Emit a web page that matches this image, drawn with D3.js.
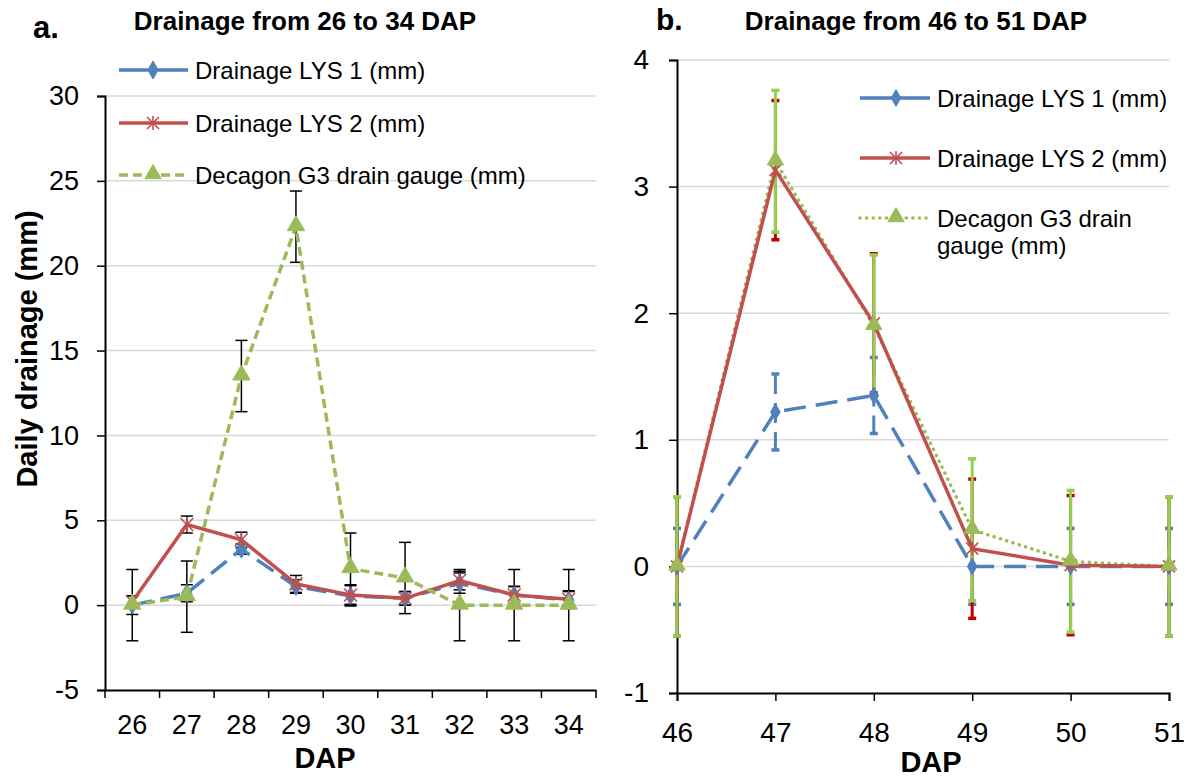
<!DOCTYPE html>
<html>
<head>
<meta charset="utf-8">
<script src="https://cdn.jsdelivr.net/npm/d3@7"></script>
<style>
  body { margin: 0; background: #fff; }
  text { font-family: "Liberation Sans", Arial, sans-serif; fill: #000; }
  .bold { font-weight: bold; }
</style>
</head>
<body>
<svg id="chart" width="1192" height="778"></svg>
<script>
// panel a: 26 - 34 DAP
var dapA = [26, 27, 28, 29, 30, 31, 32, 33, 34];
var lys1A = [0, 0.7, 3.3, 1.1, 0.55, 0.4, 1.3, 0.6, 0.3];
var lys2A = [0.2, 4.75, 3.85, 1.25, 0.6, 0.4, 1.45, 0.6, 0.35];
var g3A = [0, 0.5, 13.5, 22.3, 2.15, 1.6, 0, 0, 0];
var lys1ErrA = [0.55, 0.5, 0.3, 0.4, 0.6, 0.4, 0.6, 0.5, 0.5];
var lys2ErrA = [0.35, 0.5, 0.45, 0.5, 0.6, 0.4, 0.55, 0.5, 0.5];
var g3ErrA = [2.1, 2.1, 2.1, 2.1, 2.1, 2.1, 2.1, 2.1, 2.1];
var yTicksA = [-5, 0, 5, 10, 15, 20, 25, 30];

// panel b: 46 - 51 DAP
var dapB = [46, 47, 48, 49, 50, 51];
var lys1B = [0, 1.22, 1.35, 0, 0, 0];
var lys2B = [0, 3.13, 1.92, 0.14, 0.01, 0];
var g3B = [0, 3.2, 1.9, 0.29, 0.04, 0];
var lys1ErrB = [0.3, 0.3, 0.3, 0.3, 0.3, 0.3];
var lys2ErrB = [0.55, 0.55, 0.55, 0.55, 0.55, 0.55];
var g3ErrB = [0.55, 0.56, 0.56, 0.56, 0.56, 0.55];
var yTicksB = [-1, 0, 1, 2, 3, 4];

var legendNames = ["Drainage LYS 1 (mm)", "Drainage LYS 2 (mm)", "Decagon G3 drain gauge (mm)"];

var blue = "#4f81bd", red = "#c0504d", green = "#9bbb59";
var plain = d => String(d);   // hyphen minus like the original

var svg = d3.select("#chart");

// marker shapes
function marker(g, type, x, y, s) {
    if (type == "diamond") {
        g.append("path")
            .attr("d", d3.symbol().type(d3.symbolDiamond).size(s * s * 0.55)())
            .attr("transform", "translate(" + x + "," + y + ")")
            .attr("fill", blue).attr("stroke", blue).attr("stroke-width", 1);
    } else if (type == "star") {
        var r = s / 2;
        var d = "M" + (-r) + "," + (-r) + "L" + r + "," + r +
                "M" + (-r) + "," + r + "L" + r + "," + (-r) +
                "M0," + (-r * 1.15) + "L0," + (r * 1.15);
        g.append("path")
            .attr("d", d)
            .attr("transform", "translate(" + x + "," + y + ")")
            .attr("stroke", red).attr("stroke-width", 1.6).attr("fill", "none");
    } else {
        g.append("path")
            .attr("d", d3.symbol().type(d3.symbolTriangle).size(s * s * 0.45)())
            .attr("transform", "translate(" + x + "," + (y - 1) + ")")
            .attr("fill", green).attr("stroke", green).attr("stroke-width", 1);
    }
}

// ---------- panel a ----------
var xA = d3.scaleBand().domain(dapA).range([105, 596]);
var yA = d3.scaleLinear().domain([-5, 30]).range([690, 96]);
var gA = svg.append("g");

gA.selectAll(".grid")
    .data(yTicksA.filter(d => d > -5))
    .enter().append("line")
    .attr("x1", 105).attr("x2", 596)
    .attr("y1", d => yA(d)).attr("y2", d => yA(d))
    .attr("stroke", "#d9d9d9").attr("stroke-width", 1.5);

var axYA = gA.append("g").attr("transform", "translate(105,0)")
    .call(d3.axisLeft(yA).tickValues(yTicksA).tickSize(8).tickPadding(18).tickFormat(plain));
axYA.select(".domain").attr("stroke", "#000").attr("stroke-width", 2);
axYA.selectAll(".tick line").attr("stroke", "#000").attr("stroke-width", 1.5);
axYA.selectAll("text").attr("font-size", 27).attr("font-family", "Liberation Sans, Arial");

var axXA = gA.append("g").attr("transform", "translate(0,690)")
    .call(d3.axisBottom(xA).tickSize(0).tickPadding(25).tickFormat(plain));
axXA.select(".domain").attr("stroke", "#000").attr("stroke-width", 2);
axXA.selectAll("text").attr("font-size", 27).attr("font-family", "Liberation Sans, Arial");
// category boundary ticks
gA.selectAll(".bt")
    .data(dapA.map(d => xA(d)).concat([596]))
    .enter().append("line")
    .attr("x1", d => d).attr("x2", d => d)
    .attr("y1", 690).attr("y2", 698)
    .attr("stroke", "#000").attr("stroke-width", 1.5);

function cx(d) { return xA(d) + xA.bandwidth() / 2; }

// error bars (black)
function errA(vals, errs) {
    dapA.forEach(function(d, i) {
        var x = cx(d), top = yA(vals[i] + errs[i]), bot = yA(vals[i] - errs[i]);
        gA.append("line").attr("x1", x).attr("x2", x).attr("y1", top).attr("y2", bot)
            .attr("stroke", "#000").attr("stroke-width", 1.5);
        [top, bot].forEach(function(yy) {
            gA.append("line").attr("x1", x - 6).attr("x2", x + 6).attr("y1", yy).attr("y2", yy)
                .attr("stroke", "#000").attr("stroke-width", 1.5);
        });
    });
}

function lineA(vals, color, dash) {
    var line = d3.line().x((d, i) => cx(dapA[i])).y(d => yA(d));
    gA.append("path").datum(vals).attr("d", line)
        .attr("fill", "none").attr("stroke", color).attr("stroke-width", 3.5)
        .attr("stroke-dasharray", dash);
}

errA(g3A, g3ErrA);
errA(lys1A, lys1ErrA);
errA(lys2A, lys2ErrA);
lineA(lys1A, blue, "20,9");
lys1A.forEach((v, i) => marker(gA, "diamond", cx(dapA[i]), yA(v), 13));
lineA(lys2A, red, null);
lys2A.forEach((v, i) => marker(gA, "star", cx(dapA[i]), yA(v), 13));
lineA(g3A, green, "9,5");
g3A.forEach((v, i) => marker(gA, "triangle", cx(dapA[i]), yA(v), 17));

// labels a
svg.append("text").attr("class", "bold").attr("x", 33).attr("y", 38).attr("font-size", 31).text("a.");
svg.append("text").attr("class", "bold").attr("x", 305).attr("y", 30).attr("font-size", 26)
    .attr("text-anchor", "middle").text("Drainage from 26 to 34 DAP");
svg.append("text").attr("class", "bold").attr("x", 325).attr("y", 768).attr("font-size", 29)
    .attr("text-anchor", "middle").text("DAP");
svg.append("text").attr("class", "bold").attr("font-size", 29)
    .attr("text-anchor", "middle")
    .attr("transform", "translate(37,349) rotate(-90)").text("Daily drainage (mm)");

// legend a
var legA = [[blue, null, "diamond", 70], [red, null, "star", 123], [green, "9,5", "triangle", 175]];
legA.forEach(function(l, i) {
    svg.append("line").attr("x1", 119).attr("x2", 188).attr("y1", l[3]).attr("y2", l[3])
        .attr("stroke", l[0]).attr("stroke-width", 3.5)
        .attr("stroke-dasharray", l[1]);
    marker(svg, l[2], 153, l[3], l[2] == "triangle" ? 16 : (l[2] == "star" ? 12 : 13));
    svg.append("text").attr("x", 195).attr("y", l[3] + 8.5).attr("font-size", 24).text(legendNames[i]);
});

// ---------- panel b ----------
var xB = d3.scaleLinear().domain([46, 51]).range([677, 1169]);
var yB = d3.scaleLinear().domain([-1, 4]).range([693, 60]);
var gB = svg.append("g");

gB.selectAll(".grid")
    .data(yTicksB.filter(d => d > -1))
    .enter().append("line")
    .attr("x1", 677).attr("x2", 1169)
    .attr("y1", d => yB(d)).attr("y2", d => yB(d))
    .attr("stroke", "#d9d9d9").attr("stroke-width", 1.5);

var axYB = gB.append("g").attr("transform", "translate(677,0)")
    .call(d3.axisLeft(yB).tickValues(yTicksB).tickSize(8).tickPadding(20).tickFormat(plain));
axYB.select(".domain").attr("stroke", "#000").attr("stroke-width", 2);
axYB.selectAll(".tick line").attr("stroke", "#000").attr("stroke-width", 1.5);
axYB.selectAll("text").attr("font-size", 28).attr("font-family", "Liberation Sans, Arial");

var axXB = gB.append("g").attr("transform", "translate(0,693)")
    .call(d3.axisBottom(xB).tickValues(dapB).tickSize(8).tickPadding(21).tickFormat(plain));
axXB.select(".domain").attr("stroke", "#000").attr("stroke-width", 2);
axXB.selectAll(".tick line").attr("stroke", "#000").attr("stroke-width", 1.5);
axXB.selectAll("text").attr("font-size", 28).attr("font-family", "Liberation Sans, Arial");

function errB(vals, errs, color, dash, w) {
    dapB.forEach(function(d, i) {
        var x = xB(d), top = yB(vals[i] + errs[i]), bot = yB(vals[i] - errs[i]);
        gB.append("line").attr("x1", x).attr("x2", x).attr("y1", top).attr("y2", bot)
            .attr("stroke", color).attr("stroke-width", w).attr("stroke-dasharray", dash);
        [top, bot].forEach(function(yy) {
            gB.append("line").attr("x1", x - 4).attr("x2", x + 4).attr("y1", yy).attr("y2", yy)
                .attr("stroke", color).attr("stroke-width", w + 0.5);
        });
    });
}

function lineB(vals, color, dash, cap) {
    var line = d3.line().x((d, i) => xB(dapB[i])).y(d => yB(d));
    gB.append("path").datum(vals).attr("d", line)
        .attr("fill", "none").attr("stroke", color).attr("stroke-width", 3.5)
        .attr("stroke-dasharray", dash).attr("stroke-linecap", cap || "butt");
}

errB(lys1B, lys1ErrB, blue, "20,9", 3);
errB(lys2B, lys2ErrB, "#c00000", null, 3);
errB(g3B, g3ErrB, "#92d050", null, 3);

lineB(g3B, green, "0.1,6.5", "round");
lineB(lys1B, blue, "22,10");
lys1B.forEach((v, i) => marker(gB, "diamond", xB(dapB[i]), yB(v), 12));
lineB(lys2B, red, null);
lys2B.forEach((v, i) => marker(gB, "star", xB(dapB[i]), yB(v), 12));
g3B.forEach((v, i) => marker(gB, "triangle", xB(dapB[i]), yB(v), 16));

// labels b
svg.append("text").attr("class", "bold").attr("x", 656).attr("y", 30).attr("font-size", 30).text("b.");
svg.append("text").attr("class", "bold").attr("x", 916).attr("y", 30).attr("font-size", 26)
    .attr("text-anchor", "middle").text("Drainage from 46 to 51 DAP");
svg.append("text").attr("class", "bold").attr("x", 931).attr("y", 772).attr("font-size", 29)
    .attr("text-anchor", "middle").text("DAP");

// legend b
var legB = [[blue, null, "diamond", 98], [red, null, "star", 158], [green, "0.1,6.5", "triangle", 218]];
legB.forEach(function(l, i) {
    svg.append("line").attr("x1", 860).attr("x2", 930).attr("y1", l[3]).attr("y2", l[3])
        .attr("stroke", l[0]).attr("stroke-width", 3.5)
        .attr("stroke-dasharray", l[1]).attr("stroke-linecap", l[1] ? "round" : "butt");
    marker(svg, l[2], 896, l[3], l[2] == "triangle" ? 16 : 12);
});
svg.append("text").attr("x", 937).attr("y", 107).attr("font-size", 24).text(legendNames[0]);
svg.append("text").attr("x", 937).attr("y", 167).attr("font-size", 24).text(legendNames[1]);
svg.append("text").attr("x", 937).attr("y", 227).attr("font-size", 24).text("Decagon G3 drain");
svg.append("text").attr("x", 937).attr("y", 254).attr("font-size", 24).text("gauge (mm)");
</script>
</body>
</html>
